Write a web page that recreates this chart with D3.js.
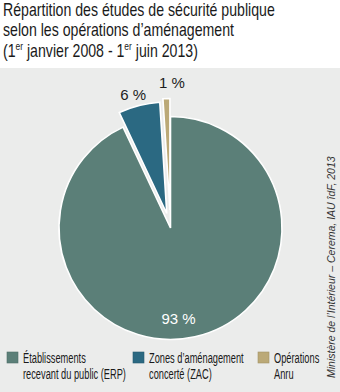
<!DOCTYPE html>
<html>
<head>
<meta charset="utf-8">
<script src="https://cdn.jsdelivr.net/npm/d3@7"></script>
<style>
  html, body { margin: 0; padding: 0; background: #ffffff; }
  svg { display: block; }
</style>
</head>
<body>
<svg id="chart" width="340" height="392"></svg>
<script>
// Études de sécurité publique par type d'opération (%)
const categories = ["Établissements recevant du public (ERP)", "Zones d’aménagement concerté (ZAC)", "Opérations Anru"];
const legendLines = [["Établissements", "recevant du public (ERP)"], ["Zones d’aménagement", "concerté (ZAC)"], ["Opérations", "Anru"]];
const values = [93, 6, 1];
const valueLabels = ["93 %", "6 %", "1 %"];
const colors = ["#5b7f78", "#2b6982", "#bba977"];
const explode = [0, 15, 18];

const svg = d3.select("#chart");
const W = 340, H = 392;
const narrowFont = "Liberation Sans, Arial, sans-serif";

// panel
svg.append("rect").attr("x", 0).attr("y", 68).attr("width", W).attr("height", H - 68).attr("fill", "#ebeceb");

// title, set in a narrowed sans
const titleG = svg.append("g").attr("transform", "translate(3,0)");
const title = titleG.append("text").attr("font-family", narrowFont).attr("fill", "#1a1a1a").attr("font-size", 18.5);
const t1 = title.append("tspan").attr("x", 0).attr("y", 16).text("Répartition des études de sécurité publique");
title.append("tspan").attr("x", 0).attr("y", 36.5).text("selon les opérations d’aménagement");
const l3 = title.append("tspan").attr("x", 0).attr("y", 57);
l3.append("tspan").text("(1");
l3.append("tspan").attr("font-size", 11).attr("dy", -7).text("er");
l3.append("tspan").attr("dy", 7).text(" janvier 2008 - 1");
l3.append("tspan").attr("font-size", 11).attr("dy", -7).text("er");
l3.append("tspan").attr("dy", 7).text(" juin 2013)");
const titleScale = 272 / t1.node().getComputedTextLength();
titleG.attr("transform", `translate(3,0) scale(${titleScale},1)`);

// pie
const cx = 170.5, cy = 228, r = 111.5;
const pie = d3.pie().sort(null).value(d => d).startAngle(0).endAngle(2 * Math.PI);
const arcs = pie(values);
const arc = d3.arc().innerRadius(0).outerRadius(r);
const g = svg.append("g").attr("transform", `translate(${cx},${cy})`);

g.selectAll("path").data(arcs).join("path")
  .attr("d", arc)
  .attr("fill", (d, i) => colors[i])
  .attr("stroke", "#ffffff")
  .attr("stroke-width", 1.6)
  .attr("stroke-linejoin", "miter")
  .attr("transform", (d, i) => {
    const a = (d.startAngle + d.endAngle) / 2;
    return `translate(${Math.sin(a) * explode[i]},${-Math.cos(a) * explode[i]})`;
  });

// value labels
arcs.forEach((d, i) => {
  const a = (d.startAngle + d.endAngle) / 2;
  let x, y, fill = "#1c1c1c";
  if (i === 0) { x = 8; y = 96; fill = "#ffffff"; }
  else {
    const R = r + explode[i] + (i === 1 ? 12 : 17);
    x = Math.sin(a) * R + (i === 1 ? -3 : 6);
    y = -Math.cos(a) * R + 6;
  }
  g.append("text")
    .attr("x", x).attr("y", y)
    .attr("text-anchor", "middle")
    .attr("font-family", "Liberation Sans, Arial, sans-serif")
    .attr("font-size", 15)
    .attr("fill", fill)
    .text(valueLabels[i]);
});

// legend
const legendX = [7, 133, 258];
const lg = svg.append("g");
const items = categories.map((c, i) => {
  const item = lg.append("g").attr("transform", `translate(${legendX[i]},352)`);
  item.append("rect").attr("width", 11).attr("height", 11).attr("fill", colors[i])
    .attr("stroke", d3.color(colors[i]).darker(0.4)).attr("stroke-width", 0.6);
  const tg = item.append("g").attr("transform", "translate(16,0)");
  const t = tg.append("text").attr("font-family", narrowFont).attr("font-size", 15).attr("fill", "#1a1a1a");
  legendLines[i].forEach((line, k) => {
    t.append("tspan").attr("x", 0).attr("y", 11 + k * 16).text(line);
  });
  return { tg, t };
});
const legendScale = 103 / items[0].t.selectAll("tspan").nodes()[1].getComputedTextLength();
items.forEach(o => o.tg.attr("transform", `translate(16,0) scale(${legendScale},1)`));

// source
svg.append("text")
  .attr("transform", "translate(335,378) rotate(-90)")
  .attr("font-family", "Liberation Sans, Arial, sans-serif")
  .attr("font-style", "italic")
  .attr("font-size", 10.5)
  .attr("fill", "#333333")
  .text("Ministère de l’Intérieur – Cerema, IAU îdF, 2013");
</script>
</body>
</html>
